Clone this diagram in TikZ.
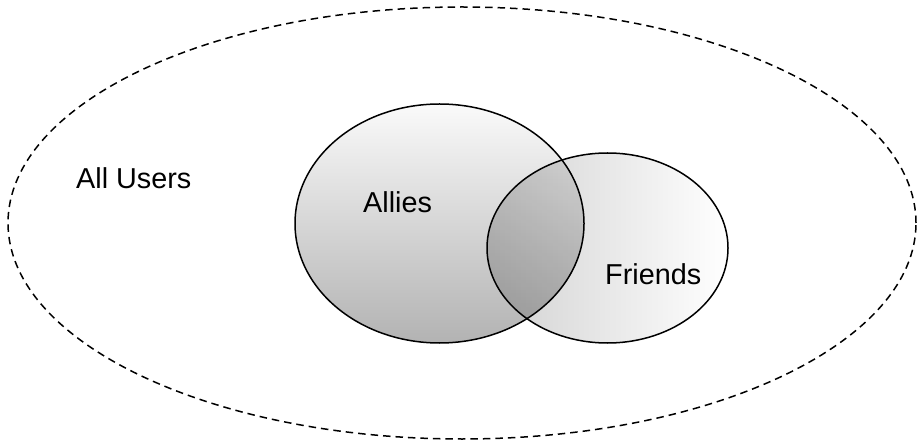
\documentclass[tikz,border=0pt]{standalone}
\usepackage{fontspec}
\setmainfont{Liberation Sans}
\usetikzlibrary{shapes.geometric}
\tikzset{
  setbox/.style={ellipse, draw=black, line width=1.5pt, inner sep=0pt},
  lbl/.style={anchor=base west, inner sep=0pt, font=\fontsize{28.8}{32}\selectfont},
}
\begin{document}
\begin{tikzpicture}[x=1pt,y=-1pt]
\useasboundingbox (0,0) rectangle (917,443);
\node[ellipse, draw=black, line width=1.5pt, dash pattern=on 7.5pt off 5pt, inner sep=0pt,
      minimum width=908pt, minimum height=432pt] (all) at (462,223) {};
\node[setbox, minimum width=289pt, minimum height=239pt,
      top color=white!98!black, bottom color=black!30] (allies) at (439.5,223.5) {};
\begin{scope}[blend mode=multiply]
\node[setbox, minimum width=241pt, minimum height=190pt,
      left color=black!18, right color=white] (friends) at (607.5,248) {};
\end{scope}
\node[lbl] (tall) at (76,189) {All Users};
\node[lbl] (tallies) at (363,213) {Allies};
\node[lbl] (tfriends) at (605,284) {Friends};
\end{tikzpicture}
\end{document}
